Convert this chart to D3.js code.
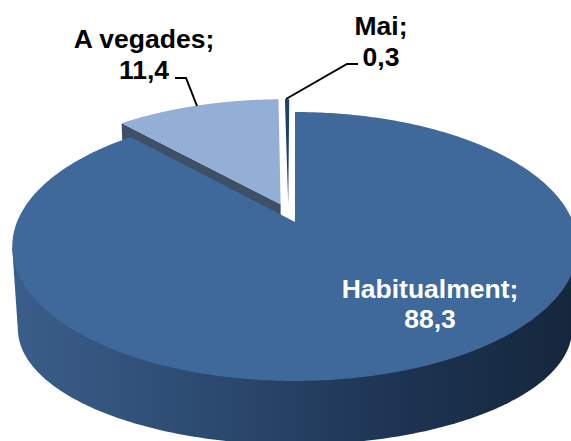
<!DOCTYPE html>
<html><head><meta charset="utf-8">
<script src="https://cdn.jsdelivr.net/npm/d3@7/dist/d3.min.js"></script>
<style>html,body{margin:0;padding:0;background:#fff}svg{display:block}
text{font-family:"Liberation Sans",Arial,sans-serif;font-weight:700;font-size:26.5px;text-anchor:middle}</style>
</head><body><svg id="c" width="571" height="441"></svg>
<script>
const categories = ["Habitualment", "A vegades", "Mai"];
const values = [88.3, 11.4, 0.3];
const topColors = ["#3f689b", "#93afd5", "#1d3f6e"];
const labelInk = ["#fff", "#000", "#000"];
const explodeU = [0, -0.053, -0.025];
const explodeV = [0, 0.14, 0.14];
const labelPos = [[430, 298, 328], [144, 48, 79], [381, 35, 66]];
const leaders = [null, [[175,78],[186,78],[197,106]], [[358,64],[347,64],[286,99]]];

const W = 571, H = 441;
const R = 278, K = 130, C = 0.182, X0 = 295, Y0 = 222;
const botY0 = 308, botSX = 0.98, botSY = 0.86;
const svg = d3.select("#c");

const defs = svg.append("defs");
const grad = defs.append("linearGradient").attr("id","wall").attr("gradientUnits","userSpaceOnUse")
  .attr("x1",13).attr("x2",571).attr("y1",0).attr("y2",0);
[[0,"#3a5e8a"],[0.35,"#2c4a70"],[0.7,"#1d3352"],[1,"#15273c"]].forEach(s=>
  grad.append("stop").attr("offset",s[0]).attr("stop-color",s[1]));

// perspective projection of the unit disc; level 0 = top face, 1 = bottom face
function project(u, v, level) {
  const w = 1 + C * v;
  return level === 0
    ? [X0 + R * u / w, Y0 - K * v / w]
    : [X0 + botSX * R * u / w, botY0 - botSY * K * v / w];
}
const pieGen = d3.pie().sort(null).startAngle(0).endAngle(2 * Math.PI);
const arcs = pieGen(values);
const line = d3.line();
const rim = (a, i, lvl) => project(Math.sin(a) + explodeU[i], Math.cos(a) + explodeV[i], lvl);
const apex = (i, lvl) => project(explodeU[i], explodeV[i], lvl);
const sampleAngles = (d) => d3.range(0, 401).map(j => d.startAngle + (d.endAngle - d.startAngle) * j / 400);

function drawWall(i) {
  const as = sampleAngles(arcs[i]).filter(a => Math.cos(a) <= -C);
  const hull = d3.polygonHull(as.flatMap(a => [rim(a, i, 0), rim(a, i, 1)]));
  svg.append("path").attr("d", line(hull) + "Z").attr("fill", "url(#wall)");
}
function drawFace(i) {
  const pts = [apex(i, 0), ...sampleAngles(arcs[i]).map(a => rim(a, i, 0))];
  svg.append("path").attr("d", line(pts) + "Z").attr("fill", topColors[i]);
}
function drawCut(i, a, color) {
  svg.append("path").attr("d", line([apex(i,0), rim(a,i,0), rim(a,i,1), apex(i,1)]) + "Z").attr("fill", color);
}

// exploded slices first, the large slice covers their lower parts
drawCut(1, arcs[1].startAngle, "#3d5068");
drawFace(1);
drawFace(2);
drawWall(0);
drawFace(0);

leaders.forEach(l => { if (l) svg.append("path").attr("d", line(l)).attr("fill","none").attr("stroke","#000").attr("stroke-width",2); });

categories.forEach((c, i) => {
  const [x, y1, y2] = labelPos[i];
  svg.append("text").attr("x", x).attr("y", y1).attr("fill", labelInk[i]).text(c + ";");
  svg.append("text").attr("x", x).attr("y", y2).attr("fill", labelInk[i]).text(String(values[i]).replace(".", ","));
});
</script></body></html>
